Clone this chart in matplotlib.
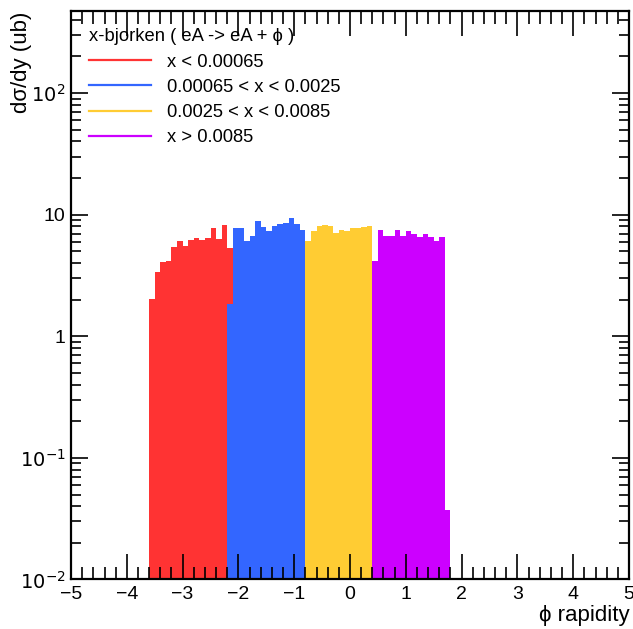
import numpy as np
import matplotlib
matplotlib.use("Agg")
import matplotlib.pyplot as plt
from matplotlib.ticker import FixedLocator, FuncFormatter, MultipleLocator
from matplotlib.lines import Line2D

plt.rcParams['font.family'] = ['Liberation Sans', 'DejaVu Sans']

# bin width in rapidity, and first bin low edge of each x-bjorken slice
bin_width = 0.1
red_start = -3.6
blue_start = -2.2
yellow_start = -0.8
purple_start = 0.4

# dsigma/dy (ub) per bin
red_vals = [2.01, 3.41, 4.06, 4.2, 5.4, 6.08, 5.57, 6.24, 6.44, 6.24, 6.44, 7.78, 6.3, 8.24, 5.37]
blue_vals = [1.83, 7.78, 7.78, 6.12, 6.73, 8.81, 7.87, 7.39, 8.13, 8.39, 8.6, 9.4, 8.39, 7.5]
yellow_vals = [6.04, 7.3, 8.02, 8.3, 8.13, 7.08, 7.54, 7.3, 7.73, 7.73, 7.87, 8.02]
purple_vals = [4.2, 7.54, 6.64, 6.64, 7.54, 6.64, 7.3, 6.95, 6.52, 6.95, 6.52, 6.12, 6.52, 0.037]

labels = ['x < 0.00065', '0.00065 < x < 0.0025', '0.0025 < x < 0.0085', 'x > 0.0085']
colors = ['#ff3333', '#3366ff', '#ffcc33', '#cc00ff']

fig = plt.figure(figsize=(6.33, 6.29), dpi=100)
ax = fig.add_axes([0.1122, 0.0787, 0.8815, 0.9043])

series = [(red_start, red_vals), (blue_start, blue_vals),
          (yellow_start, yellow_vals), (purple_start, purple_vals)]
for (start, vals), c in zip(series, colors):
    n = len(vals)
    edges = start + bin_width * np.arange(n + 1)
    ax.stairs(vals, edges, fill=True, color=c, baseline=1e-4, linewidth=0)

ax.set_yscale('log')
ax.set_xlim(-5, 5)
ax.set_ylim(0.01, 476)

# ticks ROOT style
ax.xaxis.set_major_locator(MultipleLocator(1))
ax.xaxis.set_minor_locator(MultipleLocator(0.2))
ax.xaxis.set_major_formatter(FuncFormatter(lambda v, p: ('\u2212%d' % -v) if v < 0 else '%d' % v))

dec = [0.01, 0.1, 1, 10, 100]
ax.yaxis.set_major_locator(FixedLocator(dec))
minors = [m * d for d in [0.01, 0.1, 1, 10, 100] for m in range(2, 10)]
ax.yaxis.set_minor_locator(FixedLocator(minors))
ylab = {0.01: '$10^{-2}$', 0.1: '$10^{-1}$', 1: '1', 10: '10', 100: '$10^{2}$'}
ax.yaxis.set_major_formatter(FuncFormatter(lambda v, p: ylab.get(round(v, 4), '')))

ax.tick_params(axis='x', which='major', direction='in', length=18, width=1.2,
               top=True, labelsize=14, pad=5)
ax.tick_params(axis='x', which='minor', direction='in', length=9, width=1.2, top=True)
ax.tick_params(axis='y', which='major', direction='in', length=12, width=1.2,
               right=True, labelsize=14, pad=4)
ax.tick_params(axis='y', which='minor', direction='in', length=7, width=1.2, right=True)
for s in ax.spines.values():
    s.set_linewidth(1.6)

fig.text(0.995, 0.005, '\u03d5 rapidity', ha='right', va='bottom', fontsize=16)
fig.text(0.018, 0.982, 'd\u03c3/dy (ub)', ha='left', va='top', rotation=90, fontsize=16)

handles = [Line2D([0], [0], color=c, lw=1.6) for c in colors]
leg = ax.legend(handles, labels, title='x-bjorken ( eA -> eA + \u03d5 )',
                loc='upper left', bbox_to_anchor=(0.033, 0.969), frameon=False,
                fontsize=13.2, title_fontsize=13.2, handlelength=3.35,
                handletextpad=0.9, labelspacing=0.45, borderaxespad=0,
                borderpad=0)
leg._legend_box.align = 'left'

fig.savefig('out.png', dpi=100)
